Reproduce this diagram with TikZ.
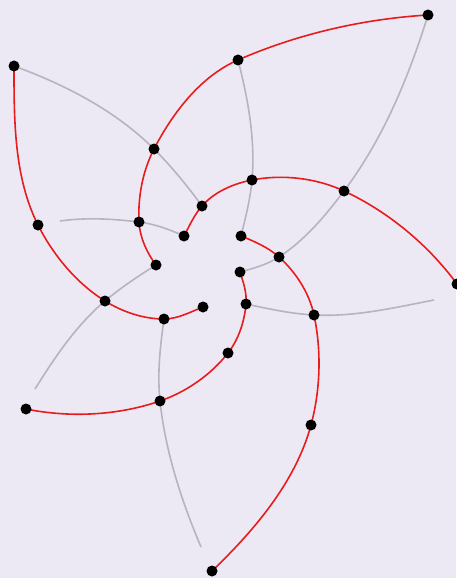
\documentclass[tikz,border=0pt]{standalone}
\definecolor{bgc}{RGB}{236,233,244}
\definecolor{redc}{RGB}{232,28,28}
\definecolor{grayc}{RGB}{182,180,190}
\pgfdeclarelayer{bglayer}
\pgfdeclarelayer{edgelayer}
\pgfsetlayers{bglayer,edgelayer,main}
\tikzset{
  dot/.style={circle,fill=black,inner sep=0pt,minimum size=11pt},
  redcurve/.style={draw=redc,line width=1.6pt},
  graycurve/.style={draw=grayc,line width=1.6pt},
}
\begin{document}
\begin{tikzpicture}[x=1pt,y=-1pt]
\useasboundingbox (0,0) rectangle (456,578);
\begin{pgfonlayer}{bglayer}
\fill[bgc] (0,0) rectangle (456,578);
\end{pgfonlayer}
% dots
\node[dot] (d1) at (428,15) {};
\node[dot] (d2) at (238,60) {};
\node[dot] (d3) at (14,66) {};
\node[dot] (d4) at (154,149) {};
\node[dot] (d5) at (252,180) {};
\node[dot] (d6) at (344,191) {};
\node[dot] (d7) at (202,206) {};
\node[dot] (d8) at (38,225) {};
\node[dot] (d9) at (139,222) {};
\node[dot] (d10) at (184,236) {};
\node[dot] (d11) at (241,236) {};
\node[dot] (d12) at (279,257) {};
\node[dot] (d13) at (156,265) {};
\node[dot] (d14) at (240,272) {};
\node[dot] (d15) at (105,301) {};
\node[dot] (d16) at (203,307) {};
\node[dot] (d17) at (246,304) {};
\node[dot] (d18) at (314,315) {};
\node[dot] (d19) at (164,319) {};
\node[dot] (d20) at (457,284) {};
\node[dot] (d21) at (228,353) {};
\node[dot] (d22) at (160,401) {};
\node[dot] (d23) at (26,409) {};
\node[dot] (d24) at (311,425) {};
\node[dot] (d25) at (212,571) {};
% free ends
\coordinate (e1) at (60,221);
\coordinate (e2) at (35,389);
\coordinate (e3) at (201,547);
\coordinate (e4) at (434,300);
\begin{pgfonlayer}{edgelayer}
% gray curves
\draw[graycurve] (d1.center) .. controls (408.7,77.1) and (383.1,139.1) .. (d6.center)
  .. controls (325.4,215.7) and (304.9,240.2) .. (d12.center)
  .. controls (267.3,264.6) and (253.4,268.4) .. (d14.center);
\draw[graycurve] (d2.center) .. controls (248.1,99.1) and (255.5,139.9) .. (d5.center)
  .. controls (250.3,198.9) and (245.6,217.6) .. (d11.center);
\draw[graycurve] (d3.center) .. controls (65,84.6) and (115.6,110.6) .. (d4.center)
  .. controls (171.5,166.5) and (187.4,185.9) .. (d7.center);
\draw[graycurve] (e1) .. controls (86,217.3) and (112.9,218.8) .. (d9.center)
  .. controls (154.6,223.9) and (169.6,229.6) .. (d10.center);
\draw[graycurve] (e2) .. controls (54.9,357.2) and (76.3,325.1) .. (d15.center)
  .. controls (120.9,287.6) and (138.4,276) .. (d13.center);
\draw[graycurve] (d19.center) .. controls (160.2,346.1) and (157.1,373.7) .. (d22.center)
  .. controls (165.3,451.2) and (181.3,500.5) .. (e3);
\draw[graycurve] (d17.center) .. controls (268.5,308.8) and (291,313.8) .. (d18.center)
  .. controls (354.3,317.1) and (394.4,307.7) .. (e4);
% red curves
\draw[redcurve] (d1.center) .. controls (363.1,18.9) and (297.5,34) .. (d2.center)
  .. controls (200.6,76.3) and (172.8,112.7) .. (d4.center)
  .. controls (142.6,171.1) and (137.8,197.2) .. (d9.center)
  .. controls (139.8,237.4) and (146.8,252.7) .. (d13.center);
\draw[redcurve] (d3.center) .. controls (14,119.6) and (13.9,177.3) .. (d8.center)
  .. controls (53.2,255.1) and (76.3,283.1) .. (d15.center)
  .. controls (122.5,311.9) and (143.4,319) .. (d19.center)
  .. controls (177.6,319) and (190.4,312) .. (d16.center);
\draw[redcurve] (d23.center) .. controls (69.8,417.9) and (117.7,415.6) .. (d22.center)
  .. controls (186.2,392) and (210.9,374.8) .. (d21.center)
  .. controls (238.7,339.3) and (244.5,321.3) .. (d17.center)
  .. controls (247,293.1) and (243.4,282.4) .. (d14.center);
\draw[redcurve] (d25.center) .. controls (254.3,530.4) and (295.7,481.8) .. (d24.center)
  .. controls (320.5,389.5) and (321.6,350.9) .. (d18.center)
  .. controls (309.3,292.9) and (295.8,272.1) .. (d12.center)
  .. controls (268.2,247.3) and (254.4,241.4) .. (d11.center);
\draw[redcurve] (d20.center) .. controls (428.1,244.7) and (388.2,211.6) .. (d6.center)
  .. controls (316,177.9) and (282.3,174.1) .. (d5.center)
  .. controls (233.5,183.6) and (214.3,191.8) .. (d7.center)
  .. controls (194.3,214.8) and (189.5,225.7) .. (d10.center);
\end{pgfonlayer}
\end{tikzpicture}
\end{document}
